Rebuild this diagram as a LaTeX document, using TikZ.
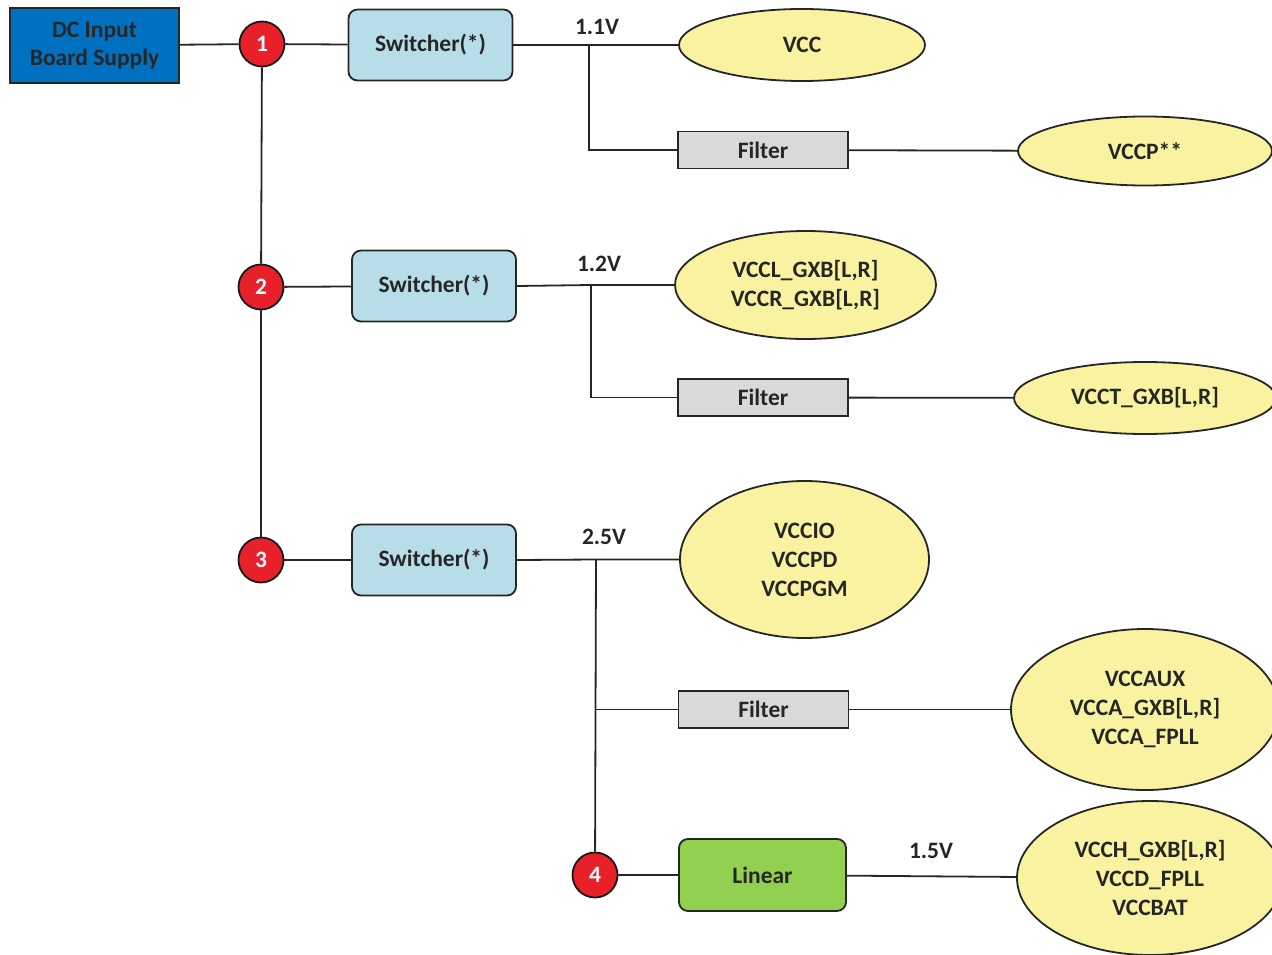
\documentclass[tikz,border=0pt]{standalone}
\usepackage{fontspec}
\setmainfont{Carlito}
\usetikzlibrary{shapes.geometric}
\definecolor{dcblue}{HTML}{0070C0}
\definecolor{swblue}{HTML}{B7DEE8}
\definecolor{redc}{HTML}{E8202A}
\definecolor{lingreen}{HTML}{92D050}
\definecolor{filgray}{HTML}{D9D9D9}
\definecolor{railyel}{HTML}{F9F3A1}
\begin{document}
\begin{tikzpicture}[x=1pt,y=-1pt,
  every node/.style={font=\fontsize{23.5}{29}\selectfont\bfseries, text=black!85},
  wire/.style={line width=1.8pt, black!85},
  dcbox/.style={draw=black!85, line width=1.8pt, fill=dcblue, minimum width=169pt, minimum height=75pt, align=center, inner sep=0pt},
  numc/.style={circle, draw=black!90, line width=1.8pt, fill=redc, text=white, minimum size=45pt, inner sep=0pt},
  swbox/.style={draw=black!85, line width=1.8pt, fill=swblue, rounded corners=9pt, minimum width=164pt, minimum height=71pt, inner sep=0pt},
  filbox/.style={draw=black!85, line width=1.8pt, fill=filgray, minimum width=170pt, minimum height=37pt, inner sep=0pt},
  linbox/.style={draw=black!85, line width=1.8pt, fill=lingreen, rounded corners=9pt, minimum width=167pt, minimum height=72pt, inner sep=0pt},
  rail/.style={ellipse, draw=black!85, line width=1.8pt, fill=railyel, inner sep=0pt, align=center},
  volt/.style={inner sep=0pt}
]
\useasboundingbox (0,0) rectangle (1272,955);

% nodes
\node[dcbox] (dc) at (94.5,45.5) {DC Input\\[-1pt]Board Supply};
\node[numc] (c1) at (262,44) {1};
\node[numc] (c2) at (261,287) {2};
\node[numc] (c3) at (261,560) {3};
\node[numc] (c4) at (595,875) {4};

\node[swbox] (sw1) at (430.5,45) {Switcher(*)};
\node[swbox] (sw2) at (434,286) {Switcher(*)};
\node[swbox] (sw3) at (434,560) {Switcher(*)};

\node[filbox] (f1) at (763,150) {Filter};
\node[filbox] (f2) at (763,397.5) {Filter};
\node[filbox] (f3) at (763.5,709.5) {Filter};
\node[linbox] (lin) at (762.5,875) {Linear};

\node[rail, minimum width=246pt, minimum height=72pt] (vcc) at (802,45) {VCC};
\node[rail, minimum width=254pt, minimum height=69pt] (vccp) at (1145,151) {VCCP**};
\node[rail, minimum width=261pt, minimum height=108pt] (vccl) at (805.5,285) {VCCL\_GXB[L,R]\\VCCR\_GXB[L,R]};
\node[rail, minimum width=262pt, minimum height=72pt] (vcct) at (1145,398) {VCCT\_GXB[L,R]};
\node[rail, minimum width=249pt, minimum height=157pt] (vccio) at (804.5,559.5) {VCCIO\\VCCPD\\VCCPGM};
\node[rail, minimum width=268pt, minimum height=161pt] (vccaux) at (1145,709.5) {VCCAUX\\VCCA\_GXB[L,R]\\VCCA\_FPLL};
\node[rail, minimum width=266pt, minimum height=154pt] (vcch) at (1150,878) {VCCH\_GXB[L,R]\\VCCD\_FPLL\\VCCBAT};

% junctions
\coordinate (j1) at (589,45);
\coordinate (j2) at (591,285);
\coordinate (j3) at (596,559.5);
\coordinate (j3b) at (596,709.5);

% connectors
\draw[wire] (dc) -- (c1);
\draw[wire] (c1) -- (sw1);
\draw[wire] (c1) -- (c2);
\draw[wire] (c2) -- (c3);
\draw[wire] (c2) -- (sw2);
\draw[wire] (c3) -- (sw3);

\draw[wire] (sw1) -- (vcc);
\draw[wire] (j1) |- (f1);
\draw[wire] (f1) -- (vccp);

\draw[wire] (sw2.east) -- (j2) -- (vccl.west);
\draw[wire] (j2) |- (f2);
\draw[wire] (f2) -- (vcct);

\draw[wire] (sw3.east) -- (j3) -- (vccio.west);
\draw[wire] (j3) -- (c4);
\draw[wire] (j3b) -- (f3);
\draw[wire] (f3) -- (vccaux);
\draw[wire] (c4) -- (lin);
\draw[wire] (lin) -- (vcch);

% voltage labels
\node[volt] (v1) at (597,27) {1.1V};
\node[volt] (v2) at (599,264) {1.2V};
\node[volt] (v3) at (604,537) {2.5V};
\node[volt] (v4) at (931,851) {1.5V};
\end{tikzpicture}
\end{document}
